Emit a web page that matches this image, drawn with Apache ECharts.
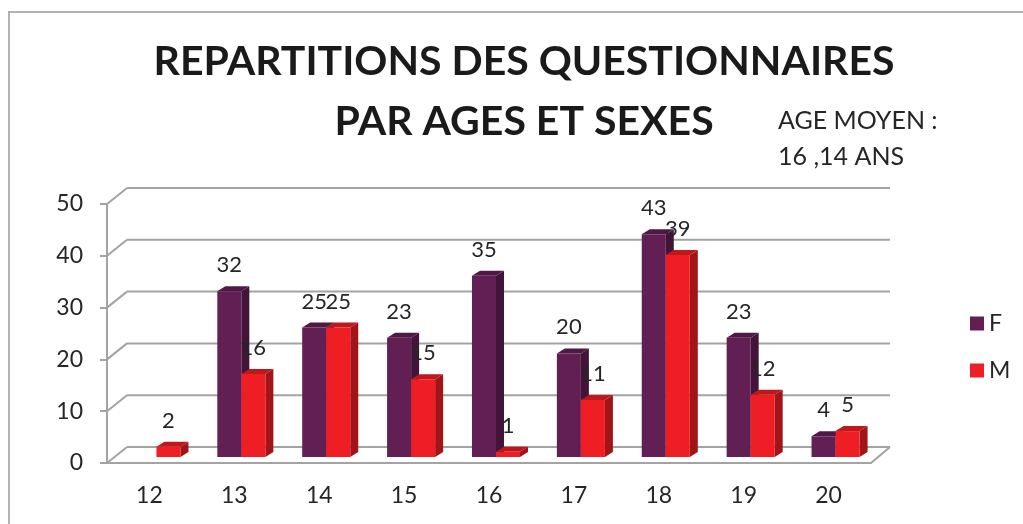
<!DOCTYPE html>
<html>
<head>
<meta charset="utf-8">
<script src="https://cdn.jsdelivr.net/npm/echarts@6/dist/echarts.min.js"></script>
<style>
  html, body { margin: 0; padding: 0; background: #fff; }
  #chart { width: 1023px; height: 524px; }
</style>
</head>
<body>
<div id="chart"></div>
<script>
var ages = ['12', '13', '14', '15', '16', '17', '18', '19', '20'];
var filles = [null, 32, 25, 23, 35, 20, 43, 23, 4];
var garcons = [2, 16, 25, 15, 1, 11, 39, 12, 5];
var yTicks = [0, 10, 20, 30, 40, 50];

var DEPTH_X = 20, DEPTH_Y = -16;   // profondeur du mur du fond
var BAR_DX = 7, BAR_DY = -6;       // position des barres dans la profondeur
var EXT_X = 8, EXT_Y = -5;         // epaisseur 3D des barres
var FONT = 'Lato, "Open Sans", sans-serif';

function shade(col, f) {
  var r = parseInt(col.slice(1, 3), 16), g = parseInt(col.slice(3, 5), 16), b = parseInt(col.slice(5, 7), 16);
  return 'rgb(' + Math.round(r * f) + ',' + Math.round(g * f) + ',' + Math.round(b * f) + ')';
}

function barRender(color, side) {
  return function (params, api) {
    var v = api.value(1);
    if (v == null || isNaN(v)) return;
    var bandW = api.size([1, 0])[0];
    var w = bandW * 0.283;
    var top = api.coord([api.value(0), v]);
    var base = api.coord([api.value(0), 0]);
    var x0 = top[0] + (side === 0 ? -w : 0) + BAR_DX;
    var yt = top[1] + BAR_DY;
    var yb = base[1] + BAR_DY;
    return {
      type: 'group',
      children: [
        { type: 'polygon', shape: { points: [[x0 + w, yt], [x0 + w + EXT_X, yt + EXT_Y], [x0 + w + EXT_X, yb + EXT_Y], [x0 + w, yb]] },
          style: { fill: shade(color, 0.68) } },
        { type: 'polygon', shape: { points: [[x0, yt], [x0 + EXT_X, yt + EXT_Y], [x0 + w + EXT_X, yt + EXT_Y], [x0 + w, yt]] },
          style: { fill: shade(color, 0.8) } },
        { type: 'rect', shape: { x: x0, y: yt, width: w, height: yb - yt },
          style: { fill: color } },
        { type: 'text', style: { text: String(v), x: x0 + w / 2, y: yt - 26, align: 'center', verticalAlign: 'middle',
          fill: '#262626', font: '22px ' + FONT } }
      ]
    };
  };
}

function wallRender(params, api) {
  var cs = params.coordSys;
  var v = api.value(0);
  var y = api.coord([0, v])[1];
  var x0 = cs.x, x1 = cs.x + cs.width;
  var lineStyle = { stroke: '#a3a3a3', lineWidth: 2 };
  var children = [
    { type: 'line', shape: { x1: x0, y1: y, x2: x0 + DEPTH_X, y2: y + DEPTH_Y }, style: lineStyle },
    { type: 'line', shape: { x1: x0 + DEPTH_X, y1: y + DEPTH_Y, x2: x1 + DEPTH_X - 1, y2: y + DEPTH_Y }, style: lineStyle }
  ];
  if (v === 0) {
    children.push({ type: 'line', shape: { x1: x1, y1: y, x2: x1 + DEPTH_X - 1, y2: y + DEPTH_Y }, style: lineStyle });
  }
  return { type: 'group', children: children };
}

var chart = echarts.init(document.getElementById('chart'));
var option = {
  backgroundColor: '#fff',
  animation: false,
  graphic: [
    { type: 'rect', shape: { x: 9, y: 12, width: 1100, height: 600 }, style: { fill: 'none', stroke: '#b3b3b3', lineWidth: 2 }, silent: true },
    { type: 'text', x: 524, y: 92, style: { text: 'REPARTITIONS DES QUESTIONNAIRES\nPAR AGES ET SEXES', align: 'center', verticalAlign: 'middle',
      fill: '#1a1a1a', font: 'bold 41px ' + FONT, lineHeight: 60 } },
    { type: 'text', x: 778, y: 139, style: { text: 'AGE MOYEN :\n16 ,14 ANS', align: 'left', verticalAlign: 'middle',
      fill: '#262626', font: '25px ' + FONT, lineHeight: 36 } }
  ],
  legend: {
    data: ['F', 'M'],
    orient: 'vertical',
    left: 965,
    top: 307,
    icon: 'rect',
    itemWidth: 14,
    itemHeight: 14,
    itemGap: 24,
    textStyle: { color: '#262626', fontSize: 23, fontFamily: FONT }
  },
  grid: { left: 107, right: 152, top: 204, bottom: 61, containLabel: false },
  xAxis: {
    type: 'category',
    data: ages,
    axisLine: { lineStyle: { color: '#a3a3a3', width: 2 } },
    axisTick: { length: 7, lineStyle: { color: '#a3a3a3', width: 2 } },
    axisLabel: { color: '#262626', fontSize: 23, fontFamily: FONT, margin: 21 }
  },
  yAxis: {
    type: 'value',
    min: 0, max: 50, interval: 10,
    axisLine: { show: true, lineStyle: { color: '#a3a3a3', width: 2 } },
    axisTick: { show: true, length: 7, lineStyle: { color: '#a3a3a3', width: 2 } },
    axisLabel: { color: '#262626', fontSize: 23, fontFamily: FONT, margin: 24 },
    splitLine: { show: false }
  },
  series: [
    { type: 'custom', name: 'wall', z: 1, silent: true, renderItem: wallRender, data: yTicks.map(function (t) { return [t]; }), encode: { y: 0 } },
    { type: 'custom', name: 'F', z: 3, itemStyle: { color: '#611f53' }, renderItem: barRender('#611f53', 0),
      data: ages.map(function (a, i) { return [i, filles[i]]; }), encode: { x: 0, y: 1 } },
    { type: 'custom', name: 'M', z: 3, itemStyle: { color: '#ee1e24' }, renderItem: barRender('#ee1e24', 1),
      data: ages.map(function (a, i) { return [i, garcons[i]]; }), encode: { x: 0, y: 1 } }
  ]
};
chart.setOption(option);
</script>
</body>
</html>
